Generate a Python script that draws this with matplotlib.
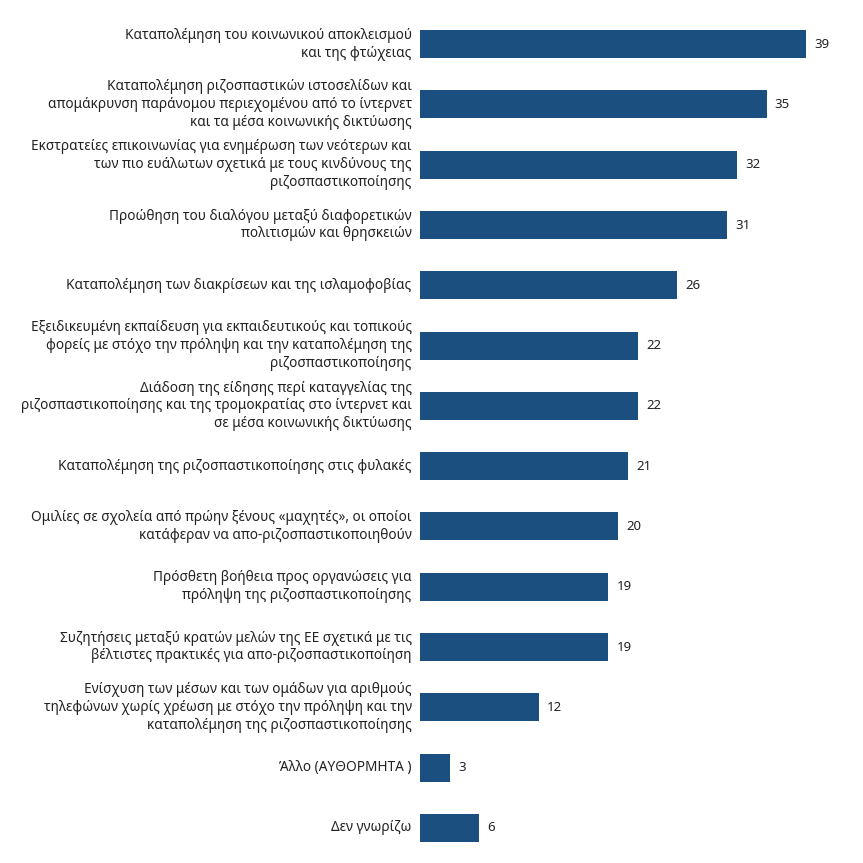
import matplotlib.pyplot as plt

plt.rcParams['font.family'] = ['Noto Sans', 'DejaVu Sans']

CATEGORIES = [
    'Καταπολέμηση του κοινωνικού αποκλεισμού\nκαι της φτώχειας',
    'Καταπολέμηση ριζοσπαστικών ιστοσελίδων και\nαπομάκρυνση παράνομου περιεχομένου από το ίντερνετ\nκαι τα μέσα κοινωνικής δικτύωσης',
    'Εκστρατείες επικοινωνίας για ενημέρωση των νεότερων και\nτων πιο ευάλωτων σχετικά με τους κινδύνους της\nριζοσπαστικοποίησης',
    'Προώθηση του διαλόγου μεταξύ διαφορετικών\nπολιτισμών και θρησκειών',
    'Καταπολέμηση των διακρίσεων και της ισλαμοφοβίας',
    'Εξειδικευμένη εκπαίδευση για εκπαιδευτικούς και τοπικούς\nφορείς με στόχο την πρόληψη και την καταπολέμηση της\nριζοσπαστικοποίησης',
    'Διάδοση της είδησης περί καταγγελίας της\nριζοσπαστικοποίησης και της τρομοκρατίας στο ίντερνετ και\nσε μέσα κοινωνικής δικτύωσης',
    'Καταπολέμηση της ριζοσπαστικοποίησης στις φυλακές',
    'Ομιλίες σε σχολεία από πρώην ξένους «μαχητές», οι οποίοι\nκατάφεραν να απο-ριζοσπαστικοποιηθούν',
    'Πρόσθετη βοήθεια προς οργανώσεις για\nπρόληψη της ριζοσπαστικοποίησης',
    'Συζητήσεις μεταξύ κρατών μελών της ΕΕ σχετικά με τις\nβέλτιστες πρακτικές για απο-ριζοσπαστικοποίηση',
    'Ενίσχυση των μέσων και των ομάδων για αριθμούς\nτηλεφώνων χωρίς χρέωση με στόχο την πρόληψη και την\nκαταπολέμηση της ριζοσπαστικοποίησης',
    'Άλλο (ΑΥΘΟΡΜΗΤΑ )',
    'Δεν γνωρίζω',
]
VALUES = [39, 35, 32, 31, 26, 22, 22, 21, 20, 19, 19, 12, 3, 6]

BAR_COLOR = '#1a4f80'

fig = plt.figure(figsize=(8.63, 8.63), dpi=100)
ax = fig.add_axes([420 / 863, 1 - 858 / 863, 443 / 863, 844 / 863])

ypos = list(range(len(VALUES)))
ax.barh(ypos, VALUES, height=0.465, color=BAR_COLOR)
ax.set_ylim(len(VALUES) - 0.5, -0.5)
ax.set_xlim(0, 443 / 9.9)
ax.axis('off')

for y, v, label in zip(ypos, VALUES, CATEGORIES):
    ax.annotate(str(v), xy=(v, y), xytext=(6, 0), textcoords='offset points',
                ha='left', va='center', fontsize=9.5, color='#222222')
    ax.annotate(label, xy=(0, y), xytext=(-6, 0), textcoords='offset points',
                ha='right', va='center', fontsize=9.8, color='#222222',
                linespacing=1.25, multialignment='right', annotation_clip=False)

fig.savefig('out.png', dpi=100, facecolor='white')
